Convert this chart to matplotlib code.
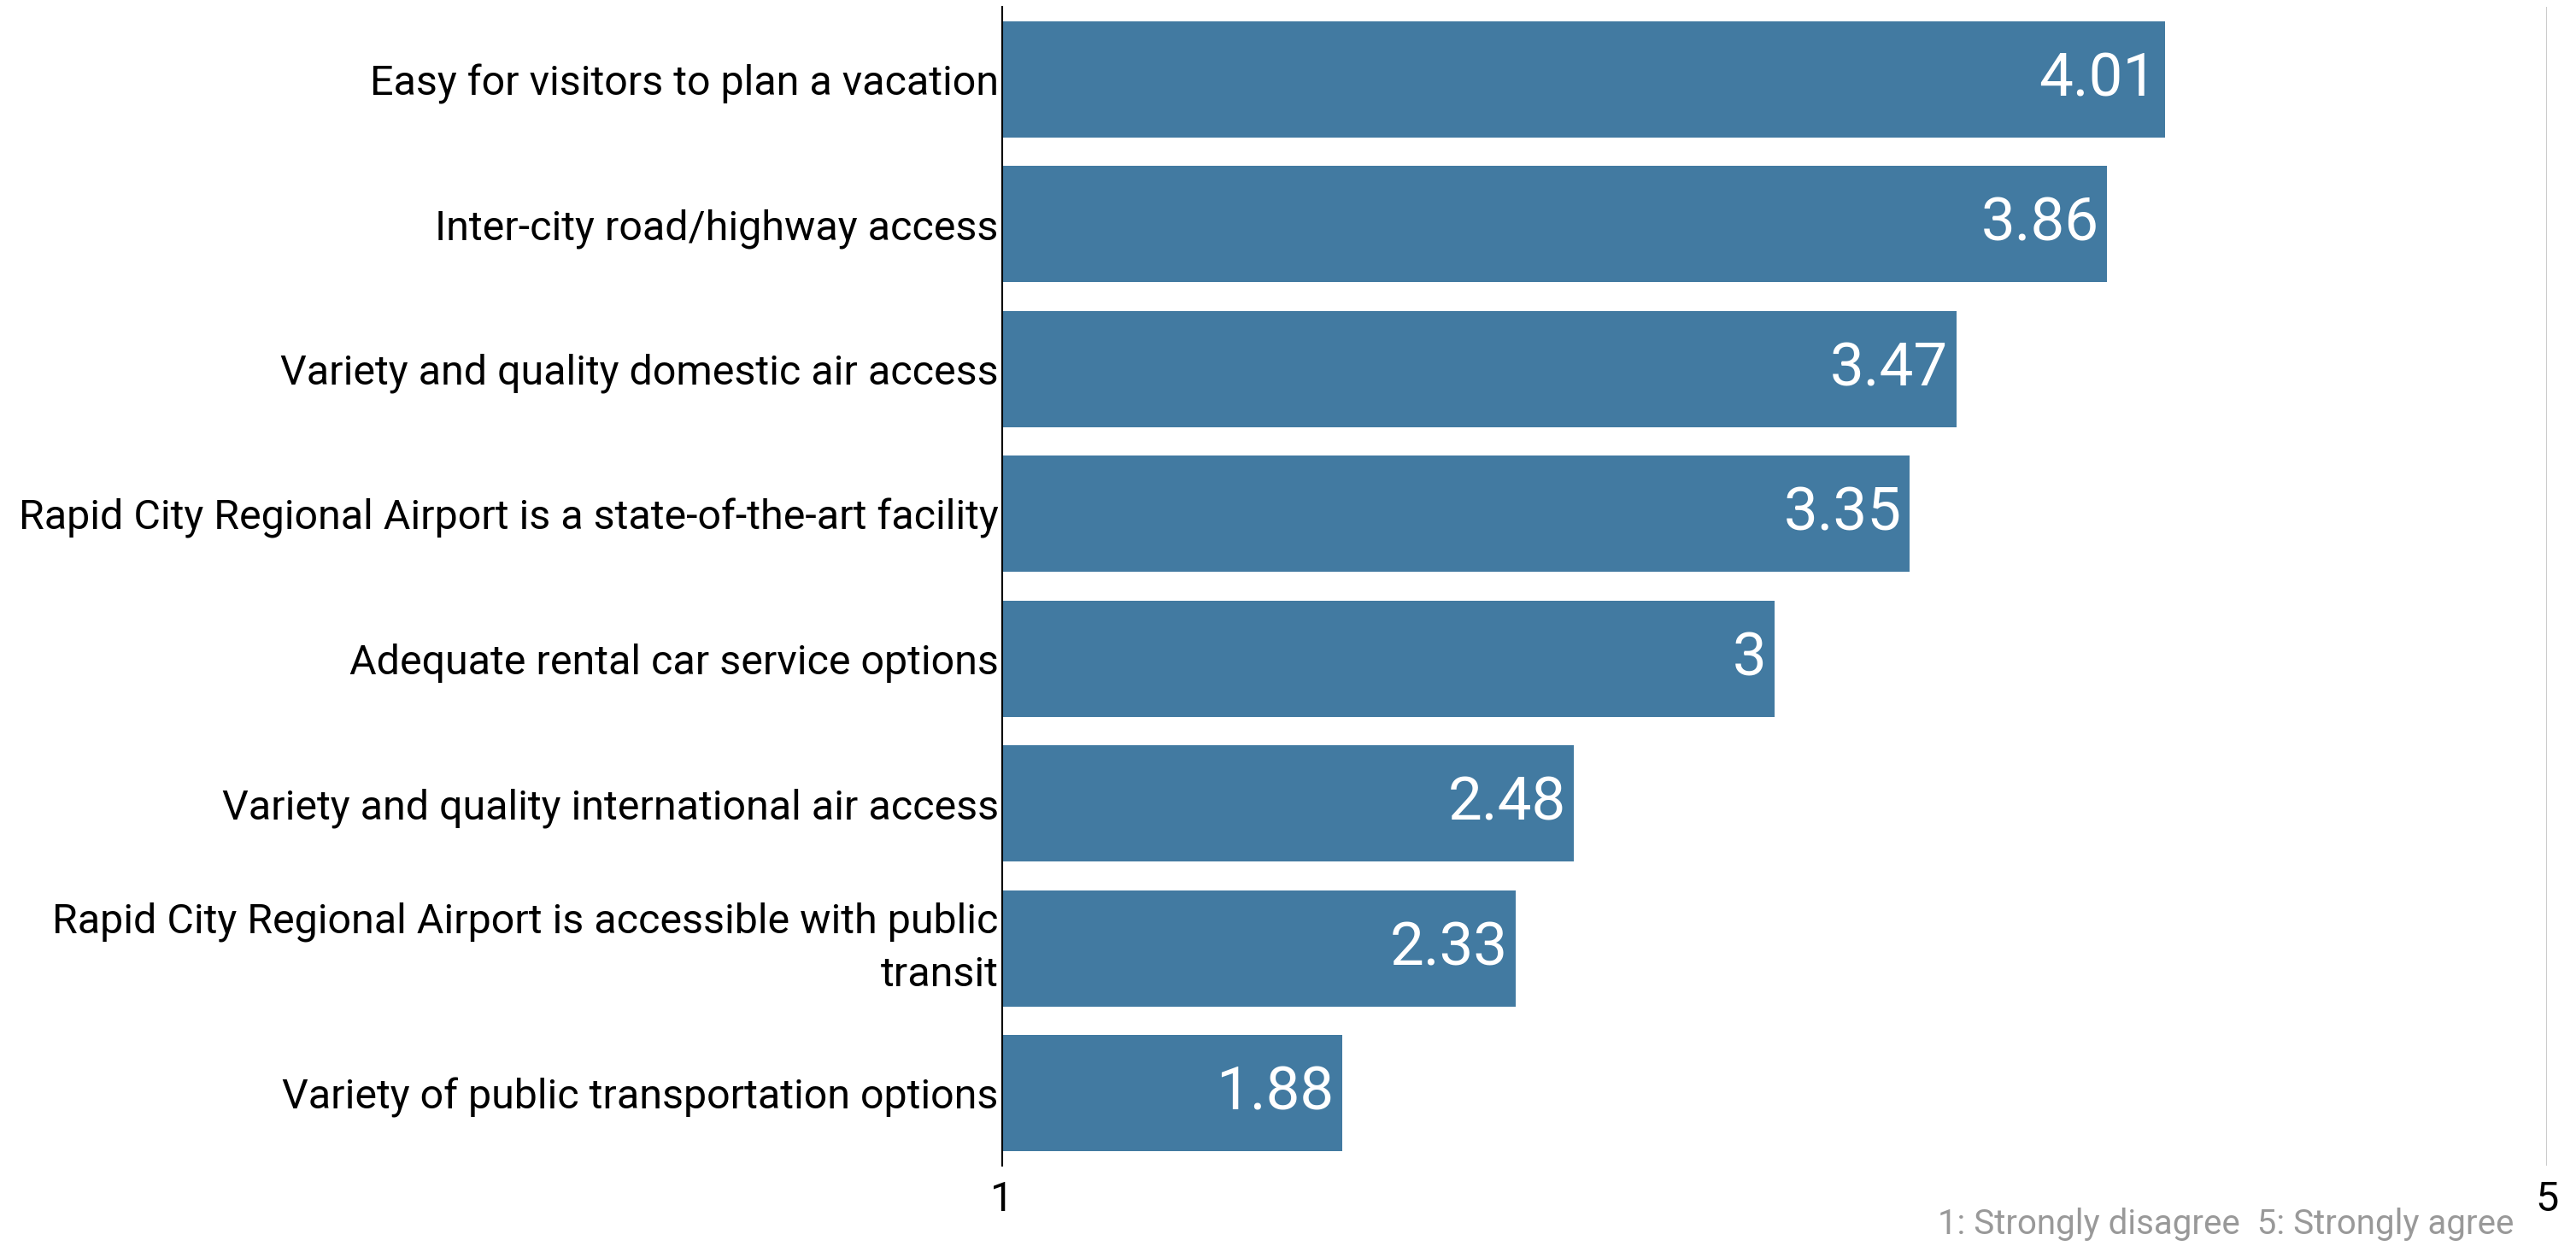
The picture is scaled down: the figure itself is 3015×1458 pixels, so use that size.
import matplotlib
matplotlib.use("Agg")

import matplotlib.pyplot as plt

plt.rcParams["font.family"] = ["Roboto", "DejaVu Sans"]

categories = [
    "Easy for visitors to plan a vacation",
    "Inter-city road/highway access",
    "Variety and quality domestic air access",
    "Rapid City Regional Airport is a state-of-the-art facility",
    "Adequate rental car service options",
    "Variety and quality international air access",
    "Rapid City Regional Airport is accessible with public\ntransit",
    "Variety of public transportation options",
]
scores = [4.01, 3.86, 3.47, 3.35, 3.00, 2.48, 2.33, 1.88]
score_labels = ["4.01", "3.86", "3.47", "3.35", "3", "2.48", "2.33", "1.88"]
x_ticks = [1, 5]

BAR_COLOR = "#427aa1"

fig = plt.figure(figsize=(30.15, 14.58), dpi=100)
ax = fig.add_axes([0.389, 0.0645, 0.5998, 0.93])

y_pos = list(range(len(categories)))
base = 1
ax.barh(y_pos, [s - base for s in scores], left=base, height=0.8,
        color=BAR_COLOR, zorder=2)

for y, s, lab in zip(y_pos, scores, score_labels):
    ax.text(s - 0.02, y, lab, ha="right", va="center",
            fontsize=51, color="white", zorder=3)

ax.set_xlim(1, 5)
ax.set_ylim(len(categories) - 0.5, -0.5)

ax.set_yticks(y_pos)
ax.set_yticklabels(categories, fontsize=34.8, color="black", linespacing=1.45)
# two-line labels sit centred on the bar rather than on the baseline
for t in ax.get_yticklabels():
    if "\n" in t.get_text():
        t.set_verticalalignment("center")
ax.set_xticks(x_ticks)
ax.set_xticklabels([str(t) for t in x_ticks], fontsize=35, color="black")
ax.tick_params(axis="both", length=0)
ax.tick_params(axis="y", pad=3)
ax.tick_params(axis="x", pad=12)

for side in ["top", "right", "bottom"]:
    ax.spines[side].set_visible(False)
ax.spines["left"].set_color("black")
ax.spines["left"].set_linewidth(1.5)

# light reference line at the top of the scale
ax.axvline(5, color="#cccccc", linewidth=1.5, zorder=1)

fig.text(0.9758, 0.004, "1: Strongly disagree  5: Strongly agree",
         ha="right", va="bottom", fontsize=29, color="#999999")

fig.savefig("out.png", dpi=100)
